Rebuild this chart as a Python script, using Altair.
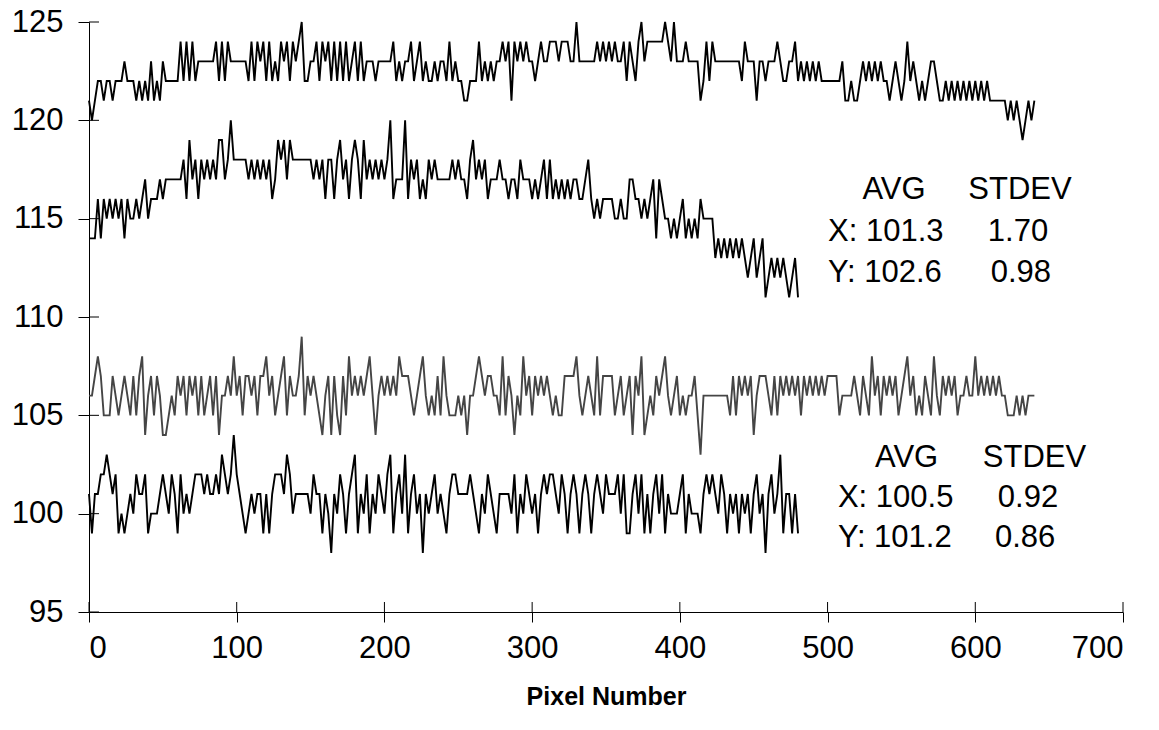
import altair as alt
import pandas as pd

# x positions: pixel number, sampled every 2 pixels
STEP = 2

# Top series (offset 119), pixels 0..640
top_digits = (
    "2123323323" "3343332323" "2423243333" "3535353444" "4445353544"
    "4444353545" "3534354535" "4563344535" "4535353534" "5353444344"
    "4445343445" "3453433434" "4353433223" "3353434344" "5452545454"
    "4345445554" "5554464444" "4454545454" "4535435645" "5555565464"
    "4454444235" "3544444444" "4354442443" "4445433445" "3434343433"
    "3333342232" "2343434343" "3234323534" "3232344322" "3232323232"
    "3232322222" "2121210121" "2"
)
TOP_OFFSET = 119

# Second series (offset 111), pixels 0..480
second_digits = (
    "3335354545" "4535445456" "4555656666" "6675867576" "7676886797"
    "7777676767" "6756878687" "7777776767" "5775786757" "8758676767"
    "6795666957" "6756576766" "6667676657" "8676756667" "6656657666"
    "5656757565" "6565665567" "5454555544" "5446655454" "5636544343"
    "4534343544" "4423232323" "2321231230" "1212121012" "0"
)
SECOND_OFFSET = 111

# Third (gray) series (offset 100), pixels 0..640
third_digits = (
    "6678755576" "5676575784" "6757644565" "7675767575" "6757466768"
    "6757767577" "8675678576" "6795767654" "6747547586" "7676786467"
    "6767687776" "5678656575" "8655565646" "6787677665" "8576465867"
    "5767676565" "5777786567" "6585777756" "7567476845" "6576786567"
    "5656675366" "6666666575" "7676746777" "6575767676" "7576767676"
    "7777566667" "6576586757" "6767567867" "5657658657" "6767566766"
    "8676767676" "6555656566" "6"
)
THIRD_OFFSET = 100

# Bottom series (offset 97), pixels 0..480
bottom_digits = (
    "4244556545" "2323435445" "2333454354" "2534345554" "5445465457"
    "5432343442" "4245554653" "4444435442" "4314354245" "6243524354"
    "3562453624" "5341434534" "3245544445" "4324354324" "4443524354"
    "3424545543" "5424542454" "2454354445" "3522453524" "2453524333"
    "4524333245" "4543542434" "2434245341" "4534624424" "2"
)
BOTTOM_OFFSET = 97

series_names = ["top", "second", "third", "bottom"]
series_colors = ["#000000", "#000000", "#454545", "#000000"]

y_ticks = [95, 100, 105, 110, 115, 120, 125]
x_ticks = [0, 100, 200, 300, 400, 500, 600, 700]

ann_text = ["AVG", "STDEV", "X: 101.3", "1.70", "Y: 102.6", "0.98",
            "AVG", "STDEV", "X: 100.5", "0.92", "Y: 101.2", "0.86"]
ann_x = [545.0, 630.3, 500.3, 628.9, 500.3, 630.9,
         553.5, 640.1, 507.0, 635.7, 507.0, 633.7]
ann_y = [116.46, 116.46, 114.30, 114.30, 112.26, 112.26,
         102.83, 102.83, 100.80, 100.80, 98.76, 98.76]
ann_align = ["center", "center", "left", "center", "left", "center",
             "center", "center", "left", "center", "left", "center"]

rows = []
for name, digits, off in zip(series_names,
                              [top_digits, second_digits, third_digits, bottom_digits],
                              [TOP_OFFSET, SECOND_OFFSET, THIRD_OFFSET, BOTTOM_OFFSET]):
    for i, c in enumerate(digits):
        rows.append({"series": name, "x": i * STEP, "y": off + int(c)})
df = pd.DataFrame(rows)

FONT = "Liberation Sans"
W, H = 1034, 590

xscale = alt.Scale(domain=[0, 700], nice=False, zero=False)
yscale = alt.Scale(domain=[95, 125], nice=False, zero=False)

lines = alt.Chart(df).mark_line(strokeWidth=1.9, interpolate="linear").encode(
    x=alt.X("x:Q", scale=xscale,
            axis=alt.Axis(values=x_ticks, title="Pixel Number", grid=False,
                          tickSize=10, labelPadding=11, labelFontSize=31,
                          titleFontSize=25, titleFontWeight="bold",
                          titleY=92, titleBaseline="alphabetic")),
    y=alt.Y("y:Q", scale=yscale,
            axis=alt.Axis(values=y_ticks, title=None, grid=False,
                          tickSize=11, labelPadding=15, labelFontSize=31)),
    color=alt.Color("series:N", scale=alt.Scale(domain=series_names, range=series_colors),
                    legend=None),
    detail="series:N",
)

ytick_df = pd.DataFrame({"v": y_ticks})
xtick_df = pd.DataFrame({"v": x_ticks})

ytick_in = alt.Chart(ytick_df).mark_rule(color="black", strokeWidth=1).encode(
    y=alt.Y("v:Q", scale=yscale), x=alt.value(0), x2=alt.value(10))
xtick_in = alt.Chart(xtick_df).mark_rule(color="black", strokeWidth=1).encode(
    x=alt.X("v:Q", scale=xscale), y=alt.value(H - 10), y2=alt.value(H))

ann_df = pd.DataFrame({"t": ann_text, "x": ann_x, "y": ann_y, "a": ann_align})
ann_left = alt.Chart(ann_df[ann_df.a == "left"]).mark_text(
    align="left", baseline="middle", fontSize=31, font=FONT, color="black").encode(
    x=alt.X("x:Q", scale=xscale), y=alt.Y("y:Q", scale=yscale), text="t:N")
ann_center = alt.Chart(ann_df[ann_df.a == "center"]).mark_text(
    align="center", baseline="middle", fontSize=31, font=FONT, color="black").encode(
    x=alt.X("x:Q", scale=xscale), y=alt.Y("y:Q", scale=yscale), text="t:N")

chart = alt.layer(lines, ytick_in, xtick_in, ann_left, ann_center).properties(
    width=W, height=H,
    autosize=alt.AutoSizeParams(type="none"),
    padding={"left": 89, "top": 22, "right": 36, "bottom": 118},
    background="white",
).configure_view(stroke=None).configure_axis(
    domainColor="black", tickColor="black", labelColor="black", titleColor="black",
    labelFont=FONT, titleFont=FONT, domainWidth=1, tickWidth=1,
)

chart.save("out.html", embed_options={"renderer": "svg", "actions": False})
